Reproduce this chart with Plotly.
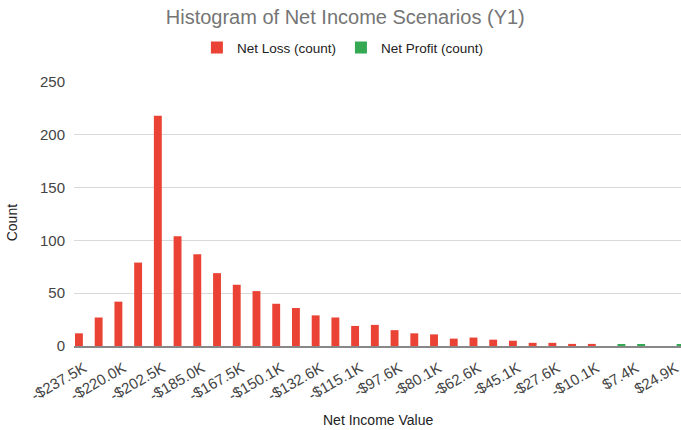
import plotly.graph_objects as go

categories = ["-$237.5K", "-$228.8K", "-$220.0K", "-$211.3K", "-$202.5K", "-$193.8K",
              "-$185.0K", "-$176.3K", "-$167.5K", "-$158.8K", "-$150.1K", "-$141.3K",
              "-$132.6K", "-$123.9K", "-$115.1K", "-$106.4K", "-$97.6K", "-$88.9K",
              "-$80.1K", "-$71.4K", "-$62.6K", "-$53.9K", "-$45.1K", "-$36.4K",
              "-$27.6K", "-$18.9K", "-$10.1K", "-$1.4K", "$7.4K", "$16.1K", "$24.9K"]

net_loss = [12, 27, 42, 79, 218, 104, 87, 69, 58, 52, 40, 36, 29, 27,
            19, 20, 15, 12, 11, 7, 8, 6, 5, 3, 3, 2, 2, 0, 0, 0, 0]
net_profit = [0] * 27 + [1, 1, 0, 1]

tick_labels = categories[::2]

RED = "#EA4335"
GREEN = "#34A853"

fig = go.Figure()
fig.add_trace(go.Bar(x=categories, y=net_loss, name="Net Loss (count)",
                     marker=dict(color=RED, line=dict(width=0))))
fig.add_trace(go.Bar(x=categories, y=net_profit, name="Net Profit (count)",
                     marker=dict(color=GREEN, line=dict(width=0))))

fig.update_layout(
    width=681, height=430,
    margin=dict(l=74, r=0, t=82, b=84),
    paper_bgcolor="white", plot_bgcolor="white",
    barmode="group", bargap=0.0, bargroupgap=0.2,
    font=dict(family="Liberation Sans, Arial, sans-serif", color="#222222"),
    title=dict(text="Histogram of Net Income Scenarios (Y1)",
               font=dict(size=20, color="#757575"),
               x=0.507, xref="container", xanchor="center",
               y=0.96, yref="container", yanchor="middle"),
    legend=dict(orientation="h", x=0.443, xanchor="center", y=1.13, yanchor="middle",
                font=dict(size=13.5, color="#222222"), itemclick=False,
                traceorder="normal", itemwidth=30),
    showlegend=True,
    annotations=[
        dict(text="Count", xref="paper", yref="paper",
             x=-62 / 607, y=(345.7 - 223) / 264, xanchor="center", yanchor="middle",
             textangle=-90, showarrow=False, font=dict(size=14, color="#222222")),
        dict(text="Net Income Value", xref="paper", yref="paper",
             x=0.5, y=-(420 - 345.7) / 264, xanchor="center", yanchor="middle",
             showarrow=False, font=dict(size=14, color="#222222")),
    ],
)

fig.update_xaxes(
    type="category", range=[-0.5, 30.27],
    tickmode="array", tickvals=tick_labels, ticktext=tick_labels,
    tickangle=-30, tickfont=dict(size=15, color="#444444"),
    showgrid=False, showline=True, linecolor="#888888", linewidth=1.5,
    ticks="", automargin=False, ticklabelstandoff=6,
)
fig.update_yaxes(
    range=[0, 250], dtick=50, tick0=0,
    tickfont=dict(size=15, color="#444444"),
    showgrid=True, gridcolor="#d9d9d9", gridwidth=1,
    zeroline=False, showline=False, ticks="", ticklabelstandoff=8,
    automargin=False,
)

fig.write_html("out.html")
